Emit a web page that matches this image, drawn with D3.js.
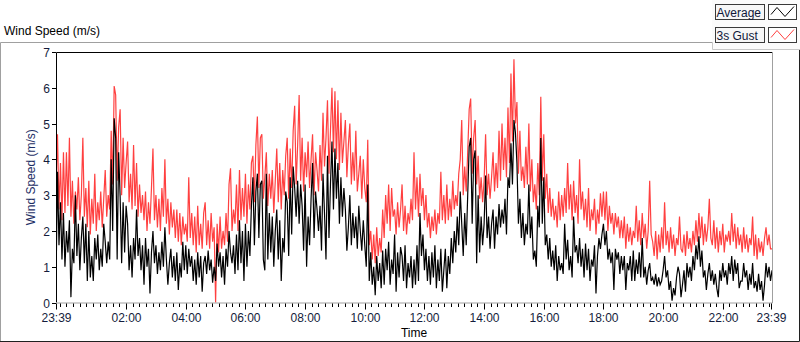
<!DOCTYPE html>
<html>
<head>
<meta charset="utf-8">
<script src="https://cdn.jsdelivr.net/npm/d3@7"></script>
<style>
body { margin: 0; background: #fff; }
svg text { font-family: "Liberation Sans", Arial, sans-serif; }
</style>
</head>
<body>
<svg id="chart" width="800" height="342"></svg>
<script>
// samples every 3 minutes, starting 23:39 (one row = one hour)
var stepMinutes = 3;
var startLabel = "23:39";

var gust = [
  3.3,4.7,2.6,3.9,2.3,4.2,2.5,4.2,2.7,4.6,2.4,3.4,2.2,3.1,2.6,3.5,2.3,3.0,4.6,2.4,
  3.2,2.1,3.4,1.9,2.9,2.2,3.6,2.0,2.8,2.3,3.1,2.1,2.9,3.7,2.4,3.0,2.6,4.8,3.3,6.05,
  5.8,3.4,4.9,5.4,3.0,4.6,3.2,3.9,4.5,2.8,3.6,2.6,4.4,2.7,3.9,2.4,3.3,2.5,3.0,2.3,
  3.1,2.0,2.8,2.2,3.2,4.3,2.3,3.0,2.1,2.9,2.0,3.2,2.4,4.0,2.2,2.9,1.9,2.8,2.1,2.6,
  1.8,2.6,1.7,2.5,1.6,2.4,1.9,2.2,1.7,3.5,1.8,2.5,1.6,2.4,1.4,2.7,1.6,2.2,1.5,2.5,
  2.8,1.6,2.3,1.5,2.5,1.7,2.1,0.0,2.2,1.4,2.4,1.5,2.0,1.6,2.5,1.7,3.3,3.75,2.0,2.6,
  2.2,3.3,2.0,3.7,2.3,3.2,2.4,3.6,2.2,3.3,2.6,3.9,4.1,2.8,4.4,5.2,3.2,4.6,4.7,2.9,
  3.5,4.2,2.7,3.6,2.9,3.7,2.5,3.4,4.3,2.8,3.9,2.6,3.7,3.0,4.1,4.6,2.9,4.3,3.2,4.8,
  5.5,3.3,4.4,5.8,3.4,4.6,3.1,4.2,3.5,4.5,3.2,4.0,4.7,3.0,4.2,3.7,3.1,4.4,3.4,5.3,
  3.8,4.6,5.65,3.6,4.8,6.0,4.2,5.9,4.0,5.65,3.7,5.3,3.9,4.5,5.1,3.5,4.4,5.0,3.3,4.2,
  3.4,4.8,3.1,3.6,4.1,2.9,4.0,3.2,2.8,4.55,1.6,2.0,1.2,1.9,1.1,2.1,1.3,1.8,1.4,2.6,
  1.8,3.0,2.2,3.3,2.0,3.2,2.4,2.6,1.9,2.8,2.1,2.6,3.3,2.0,2.7,1.9,2.5,2.2,2.9,2.3,
  4.2,2.6,3.5,2.4,3.6,2.7,3.2,2.3,3.0,2.1,2.5,1.8,2.4,2.0,2.6,1.9,2.5,2.2,3.65,2.3,
  3.0,2.2,3.3,2.3,2.9,2.4,3.4,2.6,3.0,2.7,3.6,4.0,5.1,3.0,3.8,3.1,4.2,5.4,5.7,3.6,
  4.6,5.1,3.3,4.1,2.9,3.5,2.8,3.4,4.7,3.0,3.6,2.9,3.5,4.2,3.1,3.9,3.2,4.8,3.4,5.0,
  3.7,4.6,3.5,5.45,3.9,6.4,4.5,6.8,5.0,5.6,3.6,4.8,3.4,3.8,3.2,4.35,3.3,5.0,3.1,4.0,
  2.8,3.3,2.6,3.9,3.0,5.75,3.4,4.7,2.9,3.6,2.5,3.2,2.4,2.9,2.3,2.7,2.1,3.1,2.3,3.0,
  2.4,3.2,2.5,3.9,2.6,3.3,2.3,3.4,2.5,3.0,2.2,4.0,2.6,3.1,2.3,2.9,2.1,3.2,2.0,2.6,
  2.3,2.9,1.9,2.6,2.2,3.05,2.4,3.1,2.3,3.1,2.0,2.7,2.2,2.5,1.9,2.5,2.1,2.4,1.8,2.3,
  1.8,2.4,1.5,2.2,1.7,2.1,1.6,2.0,1.8,2.7,1.7,2.3,1.6,2.5,1.8,2.2,1.5,2.0,3.4,1.9,
  1.7,1.3,2.0,1.2,1.9,1.4,2.1,1.5,2.8,1.6,2.0,1.4,2.1,1.5,1.9,1.3,1.8,1.6,2.4,1.5,
  1.4,1.9,1.3,2.0,1.5,1.8,1.4,2.0,1.6,2.3,1.7,2.5,1.8,2.4,1.6,2.2,1.7,2.1,2.9,1.8,
  1.6,2.3,1.5,2.1,1.4,2.0,1.6,2.2,1.4,1.9,1.7,2.0,1.6,2.5,1.7,2.2,1.5,2.1,1.6,1.9,
  1.4,2.1,1.5,1.9,1.4,1.8,1.6,2.4,1.3,1.9,1.2,1.8,1.4,1.7,1.3,1.8,2.1,1.6,1.9,1.5,
  1.5
];

var average = [
  0.5,3.65,1.6,2.8,1.2,2.5,1.0,2.0,1.4,2.3,0.15,1.5,1.1,3.0,1.3,2.2,0.9,1.8,2.4,1.1,
  2.2,0.6,2.0,0.7,1.3,0.6,1.8,1.2,1.9,0.9,1.5,1.0,2.2,1.7,1.1,1.7,1.2,4.0,2.0,5.15,
  4.6,1.2,4.2,2.95,1.1,2.8,1.4,2.7,2.2,0.9,1.6,0.7,1.8,1.2,2.6,1.3,1.8,0.9,1.6,0.5,
  1.8,1.0,1.5,0.25,1.4,2.0,1.1,1.6,0.8,1.4,0.9,1.7,1.0,2.1,1.2,0.5,1.1,1.5,0.7,1.3,
  0.6,1.4,0.35,1.1,0.7,1.7,0.9,1.6,0.8,1.5,1.0,1.3,0.6,1.2,0.5,1.4,0.7,1.3,0.3,1.1,
  1.3,0.8,1.45,0.9,1.2,0.55,1.0,0.6,1.65,1.0,1.4,0.7,1.3,0.5,1.5,1.0,2.0,1.4,1.1,1.6,
  0.8,1.9,0.9,2.3,1.1,2.0,0.6,2.2,1.0,2.0,1.3,2.7,3.5,1.6,3.1,3.6,1.8,3.3,3.4,1.2,
  0.9,3.6,1.2,2.5,1.4,2.4,1.0,2.0,2.6,1.2,2.3,0.6,1.8,1.4,3.1,2.8,1.3,3.5,1.9,3.8,
  3.2,2.4,3.4,2.2,3.3,2.7,1.45,3.3,1.0,2.4,1.6,2.9,3.9,1.8,3.1,2.6,2.0,2.7,1.45,3.6,
  2.5,1.2,4.1,1.8,3.3,4.5,2.6,4.3,2.9,3.9,2.2,3.5,2.4,3.2,2.6,1.45,2.1,3.0,1.6,2.5,
  1.8,2.4,1.5,2.7,2.0,1.45,2.3,1.6,1.0,3.3,0.6,1.4,0.5,1.0,0.2,1.3,0.6,1.1,0.4,1.45,
  0.5,1.5,0.9,1.7,0.5,1.2,0.8,1.9,0.3,1.4,0.7,1.55,1.3,0.6,1.6,0.4,1.1,0.7,1.3,0.4,
  1.2,0.5,1.6,0.6,2.5,1.3,1.9,0.9,1.5,0.6,1.3,0.5,1.4,0.7,1.6,0.4,1.2,0.6,1.5,0.3,
  0.9,1.5,0.4,1.3,0.8,1.8,1.1,2.0,1.4,2.4,1.6,3.1,2.2,1.3,2.5,1.6,3.0,4.35,4.6,2.2,
  4.0,4.25,1.1,3.0,1.4,2.4,1.6,2.2,3.55,1.8,2.4,1.5,2.2,2.6,1.5,2.4,1.9,2.75,2.1,2.6,
  2.2,2.9,1.9,3.5,3.2,4.45,3.3,5.1,4.75,3.9,2.2,2.9,1.8,2.5,1.6,2.2,1.9,3.3,1.8,2.4,
  1.2,1.45,1.0,2.7,2.1,4.6,2.2,3.5,1.6,1.9,1.2,1.8,1.0,1.45,0.9,1.6,0.6,1.3,0.9,1.1,
  0.8,2.2,1.2,1.75,0.9,1.3,0.7,2.4,1.4,1.6,1.1,1.8,1.0,1.5,0.7,1.65,0.9,1.5,0.6,1.2,
  1.0,1.6,0.25,1.3,1.8,1.5,1.9,2.2,1.6,2.0,1.2,1.5,1.1,1.4,0.35,1.5,1.2,1.4,0.8,1.3,
  0.9,1.3,0.35,1.1,0.9,1.3,0.6,1.45,0.6,1.2,0.8,1.4,0.7,1.8,0.7,1.0,0.5,0.9,1.1,0.6,
  0.7,0.5,0.8,0.45,0.7,0.5,0.6,0.9,1.3,0.7,0.9,0.35,0.6,0.05,0.4,0.2,0.7,1.0,0.8,0.15,
  0.5,0.9,0.3,1.1,0.7,1.0,0.6,1.3,0.9,1.6,1.2,1.85,1.0,1.45,0.7,0.9,0.35,0.8,1.1,0.6,
  0.9,0.5,0.8,0.4,0.15,0.9,0.6,1.1,0.7,0.9,0.5,1.1,0.8,1.3,0.6,1.2,0.8,1.1,0.4,0.6,
  0.6,1.1,0.7,0.9,0.35,0.8,0.5,1.1,0.4,0.6,0.3,0.8,0.35,0.6,0.05,0.5,1.1,0.7,1.0,0.6,
  0.9
];

var xTickLabels = ["23:39","02:00","04:00","06:00","08:00","10:00","12:00",
                   "14:00","16:00","18:00","20:00","22:00","23:39"];
var yTicks = [0,1,2,3,4,5,6,7];
var legendNames = ["Average","3s Gust"];
var seriesColors = ["#000000","#ff4040"];

var svg = d3.select("#chart"),
    width = +svg.attr("width"),
    height = +svg.attr("height");

var plotLeft = 56, plotRight = 772, plotTop = 52, plotBottom = 302.5;

var parseHM = d3.timeParse("%H:%M");
var t0 = parseHM(startLabel);
var t1 = d3.timeMinute.offset(t0, 24 * 60);

function labelToDate(s, i) {
  if (i == xTickLabels.length - 1) return t1;
  var d = parseHM(s);
  if (d < t0) d = d3.timeDay.offset(d, 1);
  return d;
}

var x = d3.scaleTime().domain([t0, t1]).range([plotLeft, plotRight]);
var y = d3.scaleLinear().domain([0, 7]).range([plotBottom, plotTop]);

function timeAt(i) { return d3.timeMinute.offset(t0, i * stepMinutes); }

// outer panel frame
svg.append("path")
  .attr("d", "M0.5,341 V42.5 H712")
  .attr("fill", "none").attr("stroke", "#a0a0a0");
svg.append("path")
  .attr("d", "M0,341.5 H799.5 V49")
  .attr("fill", "none").attr("stroke", "#202020");

// chart title
svg.append("text")
  .attr("x", 4).attr("y", 35)
  .attr("font-size", 12).attr("fill", "#000")
  .text("Wind Speed (m/s)");

// legend panel
var leg = svg.append("g");
leg.append("rect").attr("x", 712).attr("y", 0).attr("width", 88).attr("height", 49)
  .attr("fill", "#fbfbfb");
leg.append("path").attr("d", "M712.5,42 V49.5 H800")
  .attr("fill", "none").attr("stroke", "#c8c8c8");

legendNames.forEach(function(name, k) {
  var top = 4.5 + k * 23;
  leg.append("rect").attr("x", 715.5).attr("y", top).attr("width", 49).attr("height", 15)
    .attr("fill", "#f7f7f7").attr("stroke", "#3a3a3a");
  leg.append("text").attr("x", 716.5).attr("y", top + 12)
    .attr("font-size", 12).attr("fill", "#10183a").text(name);
  leg.append("rect").attr("x", 768.5).attr("y", top).attr("width", 28).attr("height", 15)
    .attr("fill", "#fff").attr("stroke", "#3a3a3a");
  var zig = [[771, top + 10], [777, top + 3], [785, top + 12], [794, top + 2]];
  leg.append("path").attr("d", d3.line()(zig))
    .attr("fill", "none").attr("stroke", seriesColors[k]).attr("stroke-width", 1);
});

// data lines
svg.append("clipPath").attr("id", "plotclip")
  .append("rect").attr("x", plotLeft).attr("y", plotTop)
  .attr("width", plotRight - plotLeft).attr("height", plotBottom - plotTop + 1);

var line = d3.line()
  .x(function(d, i) { return x(timeAt(i)); })
  .y(function(d) { return y(d); });

var plot = svg.append("g").attr("clip-path", "url(#plotclip)");
plot.append("path").datum(gust)
  .attr("d", line).attr("fill", "none")
  .attr("stroke", seriesColors[1]).attr("stroke-width", 1.2);
plot.append("path").datum(average)
  .attr("d", line).attr("fill", "none")
  .attr("stroke", seriesColors[0]).attr("stroke-width", 1.2);

// plot frame: dark top/left, light bottom/right
svg.append("path")
  .attr("d", "M" + (plotLeft + 0.5) + "," + plotBottom + " V" + (plotTop + 0.5) + " H" + plotRight)
  .attr("fill", "none").attr("stroke", "#000");
svg.append("path")
  .attr("d", "M" + plotLeft + "," + (plotBottom + 0.5) + " H" + (plotRight + 0.5) + " V" + plotTop)
  .attr("fill", "none").attr("stroke", "#a0a0a0");

// y axis
var yAxis = svg.append("g");
yTicks.forEach(function(v) {
  var yy = Math.round(y(v)) + 0.5;
  yAxis.append("line").attr("x1", plotLeft - 4).attr("x2", plotLeft)
    .attr("y1", yy).attr("y2", yy).attr("stroke", "#000");
  yAxis.append("text").attr("x", plotLeft - 6).attr("y", yy + 4.5)
    .attr("text-anchor", "end").attr("font-size", 12).attr("fill", "#141c3c")
    .text(v);
});
svg.append("text")
  .attr("transform", "translate(35," + ((plotTop + plotBottom) / 2) + ") rotate(-90)")
  .attr("text-anchor", "middle").attr("font-size", 12).attr("fill", "#1e2f66")
  .text("Wind Speed (m/s)");

// x axis
var xAxis = svg.append("g");
var majors = xTickLabels.map(labelToDate);
var minorStep = 120 / 9;
var minors = [];
for (var m = majors[1].getTime() - minorStep * 60000; m > t0.getTime(); m -= minorStep * 60000) minors.push(new Date(m));
for (var k = 1; k < majors.length - 2; k++) {
  for (var j = 1; j < 9; j++) minors.push(new Date(majors[k].getTime() + j * minorStep * 60000));
}
for (var m2 = majors[majors.length - 2].getTime() + minorStep * 60000; m2 < t1.getTime(); m2 += minorStep * 60000) minors.push(new Date(m2));

minors.forEach(function(d) {
  var xx = Math.round(x(d)) + 0.5;
  xAxis.append("line").attr("x1", xx).attr("x2", xx)
    .attr("y1", plotBottom + 1).attr("y2", plotBottom + 4.5).attr("stroke", "#000");
});
majors.forEach(function(d, i) {
  var xx = Math.round(x(d)) + 0.5;
  if (i == majors.length - 1) xx -= 1;
  xAxis.append("line").attr("x1", xx).attr("x2", xx)
    .attr("y1", plotBottom + 1).attr("y2", plotBottom + 7).attr("stroke", "#000");
  xAxis.append("text").attr("x", xx).attr("y", 322)
    .attr("text-anchor", "middle").attr("font-size", 12).attr("fill", "#141c3c")
    .text(xTickLabels[i]);
});
svg.append("text")
  .attr("x", (plotLeft + plotRight) / 2).attr("y", 337)
  .attr("text-anchor", "middle").attr("font-size", 12).attr("fill", "#000")
  .text("Time");
</script>
</body>
</html>
